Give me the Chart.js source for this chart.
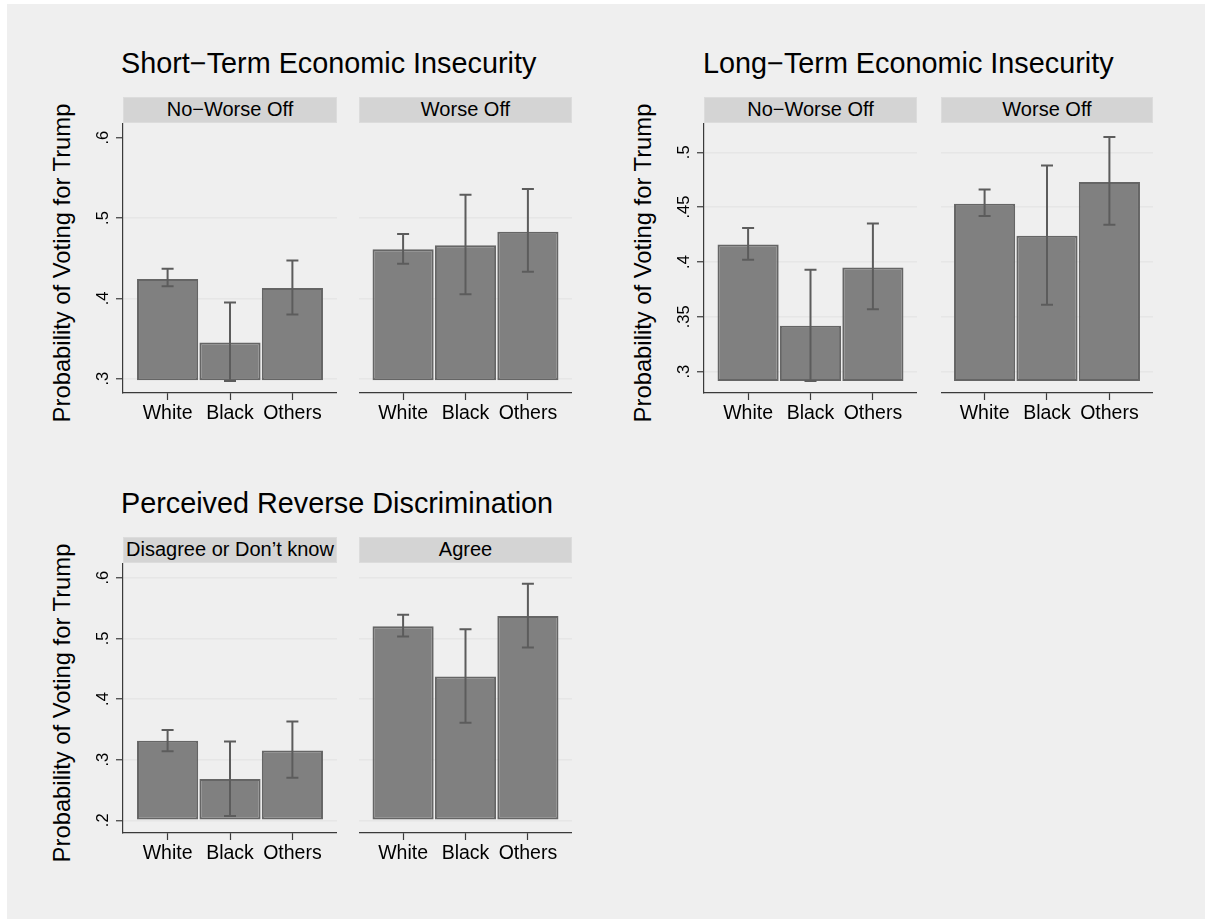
<!DOCTYPE html>
<html>
<head>
<meta charset="utf-8">
<title>Probability of Voting for Trump</title>
<script src="https://cdn.jsdelivr.net/npm/chart.js@4.4.1/dist/chart.umd.min.js"></script>
<style>
  html, body { margin: 0; padding: 0; background: #ffffff; width: 1205px; height: 919px; overflow: hidden;
    font-family: "Liberation Sans", Arial, Helvetica, sans-serif; }
  #sheet { position: absolute; left: 7px; top: 4px; width: 1198px; height: 915px; background: #efefef; }
  .title { position: absolute; font-size: 28.8px; line-height: 1; color: #000; white-space: nowrap; }
  .strip { position: absolute; box-sizing: border-box; background: #d4d4d4; border: 1px solid #dcdcdc;
    font-size: 20px; line-height: 22px; color: #000; text-align: center; white-space: nowrap; }
  .ytitle { position: absolute; width: 400px; height: 24px; font-size: 23.8px; line-height: 24px;
    color: #000; text-align: center; white-space: nowrap; transform: rotate(-90deg); transform-origin: 50% 50%; }
  canvas.panel { position: absolute; display: block; }
</style>
</head>
<body>
<div id="sheet"></div>
<script>
// Respondent groups on the x axis
const races = ["White", "Black", "Others"];

// Short-term economic insecurity: predicted probability and 95% interval
const shortNoWorse   = [0.424, 0.345, 0.413];
const shortNoWorseLo = [0.415, 0.297, 0.380];
const shortNoWorseHi = [0.437, 0.395, 0.447];
const shortWorse     = [0.461, 0.466, 0.483];
const shortWorseLo   = [0.443, 0.405, 0.433];
const shortWorseHi   = [0.480, 0.529, 0.536];

// Long-term economic insecurity
const longNoWorse    = [0.416, 0.342, 0.395];
const longNoWorseLo  = [0.402, 0.2915, 0.357];
const longNoWorseHi  = [0.431, 0.393, 0.435];
const longWorse      = [0.453, 0.424, 0.473];
const longWorseLo    = [0.442, 0.361, 0.434];
const longWorseHi    = [0.466, 0.488, 0.514];

// Perceived reverse discrimination
const discDisagree   = [0.331, 0.268, 0.315];
const discDisagreeLo = [0.314, 0.207, 0.270];
const discDisagreeHi = [0.349, 0.330, 0.363];
const discAgree      = [0.520, 0.437, 0.537];
const discAgreeLo    = [0.503, 0.361, 0.485];
const discAgreeHi    = [0.539, 0.515, 0.590];

// Y-axis tick values and bar baselines for each graph
const shortTicks = [0.3, 0.4, 0.5, 0.6];
const longTicks  = [0.3, 0.35, 0.4, 0.45, 0.5];
const discTicks  = [0.2, 0.3, 0.4, 0.5, 0.6];
const shortBase = 0.298;
const longBase  = 0.2915;
const discBase  = 0.2;

const FONT = '"Liberation Sans", Arial, Helvetica, sans-serif';
const AXIS_COLOR = '#3a3a3a';
const Y_TITLE = 'Probability of Voting for Trump';
const Y_TICK_SIZE = 16.5;
const X_AXIS_H = 50;
const Y_AXIS_W = 60;

const titles = [
  { text: 'Short\u2212Term Economic Insecurity', left: 121, top: 49.4 },
  { text: 'Long\u2212Term Economic Insecurity', left: 703, top: 49.4 },
  { text: 'Perceived Reverse Discrimination', left: 121, top: 489.4 }
];

const panels = [
  { strip: 'No\u2212Worse Off', values: shortNoWorse, lo: shortNoWorseLo, hi: shortNoWorseHi,
    ticks: shortTicks, base: shortBase, yMin: 0.2822, yMax: 0.6183, noGrid: [0.6],
    box: { left: 123, top: 123, width: 214, height: 270 }, yAxis: true },
  { strip: 'Worse Off', values: shortWorse, lo: shortWorseLo, hi: shortWorseHi,
    ticks: shortTicks, base: shortBase, yMin: 0.2822, yMax: 0.6183, noGrid: [0.6],
    box: { left: 359, top: 123, width: 213, height: 270 }, yAxis: false },
  { strip: 'No\u2212Worse Off', values: longNoWorse, lo: longNoWorseLo, hi: longNoWorseHi,
    ticks: longTicks, base: longBase, yMin: 0.2806, yMax: 0.5267, noGrid: [],
    box: { left: 704, top: 123, width: 213, height: 270 }, yAxis: true },
  { strip: 'Worse Off', values: longWorse, lo: longWorseLo, hi: longWorseHi,
    ticks: longTicks, base: longBase, yMin: 0.2806, yMax: 0.5267, noGrid: [],
    box: { left: 941, top: 123, width: 212, height: 270 }, yAxis: false },
  { strip: 'Disagree or Don\u2019t know', values: discDisagree, lo: discDisagreeLo, hi: discDisagreeHi,
    ticks: discTicks, base: discBase, yMin: 0.1791, yMax: 0.6242, noGrid: [],
    box: { left: 123, top: 563, width: 214, height: 270 }, yAxis: true },
  { strip: 'Agree', values: discAgree, lo: discAgreeLo, hi: discAgreeHi,
    ticks: discTicks, base: discBase, yMin: 0.1791, yMax: 0.6242, noGrid: [],
    box: { left: 359, top: 563, width: 213, height: 270 }, yAxis: false }
];

// ".45" style labels without the leading zero
function fmtTick(v) {
  return String(+v.toFixed(3)).replace(/^0\./, '.');
}

// Keep rotated tick labels centred at a fixed distance from the axis line
const measureCtx = document.createElement('canvas').getContext('2d');
function tickPadding(ticks) {
  measureCtx.font = Y_TICK_SIZE + 'px ' + FONT;
  const widest = Math.max(...ticks.map(t => measureCtx.measureText(fmtTick(t)).width));
  return 13 - widest / 2;
}

// Confidence-interval whiskers drawn through the chart's own scales
const errorBars = {
  id: 'errorBars',
  afterDatasetsDraw(chart, args, opts) {
    const { ctx } = chart;
    const xs = chart.scales.x, ys = chart.scales.y;
    ctx.save();
    ctx.strokeStyle = opts.color;
    ctx.lineWidth = opts.width;
    opts.lo.forEach((low, i) => {
      const px = xs.getPixelForValue(i + 1);
      const pLo = ys.getPixelForValue(low);
      const pHi = ys.getPixelForValue(opts.hi[i]);
      const c = opts.cap;
      ctx.beginPath();
      ctx.moveTo(px, pLo); ctx.lineTo(px, pHi);
      ctx.moveTo(px - c, pLo); ctx.lineTo(px + c, pLo);
      ctx.moveTo(px - c, pHi); ctx.lineTo(px + c, pHi);
      ctx.stroke();
    });
    ctx.restore();
  }
};

titles.forEach(t => {
  const d = document.createElement('div');
  d.className = 'title';
  d.textContent = t.text;
  d.style.left = t.left + 'px';
  d.style.top = t.top + 'px';
  document.body.appendChild(d);
});

panels.forEach(p => {
  const b = p.box;
  const strip = document.createElement('div');
  strip.className = 'strip';
  strip.textContent = p.strip;
  strip.style.left = b.left + 'px';
  strip.style.top = (b.top - 26) + 'px';
  strip.style.width = b.width + 'px';
  strip.style.height = '26px';
  document.body.appendChild(strip);

  if (p.yAxis) {
    // Axis title, centred left of the axis line
    const yt = document.createElement('div');
    yt.className = 'ytitle';
    yt.textContent = Y_TITLE;
    const cx = b.left - 61, cy = b.top + b.height / 2 + 5;
    yt.style.left = (cx - 200) + 'px';
    yt.style.top = (cy - 12) + 'px';
    document.body.appendChild(yt);
  }

  const yw = p.yAxis ? Y_AXIS_W : 0;
  const canvas = document.createElement('canvas');
  canvas.className = 'panel';
  canvas.width = b.width + yw;
  canvas.height = b.height + X_AXIS_H;
  canvas.style.left = (b.left - yw) + 'px';
  canvas.style.top = b.top + 'px';
  document.body.appendChild(canvas);

  // Category spacing of about 62.4 px, centred in the plot region
  const half = b.width / 62.4 / 2;

  new Chart(canvas, {
    type: 'bar',
    data: {
      datasets: [{
        data: p.values.map((v, i) => ({ x: i + 1, y: v })),
        base: p.base,
        backgroundColor: '#808080',
        borderColor: '#656565',
        borderWidth: 2,
        borderSkipped: false,
        barPercentage: 0.98,
        categoryPercentage: 1.0
      }]
    },
    options: {
      responsive: false,
      animation: false,
      devicePixelRatio: 1,
      layout: { padding: 0 },
      plugins: {
        legend: { display: false },
        tooltip: { enabled: false },
        errorBars: { lo: p.lo, hi: p.hi, color: '#5c5c5c', width: 2, cap: 6 }
      },
      scales: {
        x: {
          type: 'linear',
          offset: false,
          min: 2 - half,
          max: 2 + half,
          afterBuildTicks: s => { s.ticks = races.map((_, i) => ({ value: i + 1 })); },
          afterFit: s => { s.height = X_AXIS_H; s.paddingLeft = 0; s.paddingRight = 0; },
          ticks: {
            callback: v => races[Math.round(v) - 1],
            autoSkip: false, minRotation: 0, maxRotation: 0, padding: 2,
            color: '#000', font: { family: FONT, size: 19.5 }
          },
          grid: { offset: false, drawOnChartArea: false, drawTicks: true, tickLength: 7, tickColor: AXIS_COLOR, tickWidth: 1.2 },
          border: { display: true, color: AXIS_COLOR, width: 1.2 }
        },
        y: {
          type: 'linear',
          min: p.yMin,
          max: p.yMax,
          afterBuildTicks: s => { s.ticks = p.ticks.map(v => ({ value: v })); },
          afterFit: s => { s.width = yw; s.paddingTop = 0; s.paddingBottom = 0; },
          ticks: {
            display: p.yAxis,
            callback: v => fmtTick(v),
            autoSkip: false, minRotation: 90, maxRotation: 90, crossAlign: 'center',
            padding: tickPadding(p.ticks),
            color: '#000', font: { family: FONT, size: Y_TICK_SIZE }
          },
          grid: {
            color: c => (c.tick && p.noGrid.some(g => Math.abs(g - c.tick.value) < 1e-9)) ? 'rgba(0,0,0,0)' : '#e6e6e6',
            lineWidth: 1.5,
            drawTicks: p.yAxis, tickLength: 7, tickColor: AXIS_COLOR, tickWidth: 1.2
          },
          border: { display: p.yAxis, color: AXIS_COLOR, width: 1.2 }
        }
      }
    },
    plugins: [errorBars]
  });
});
</script>
</body>
</html>
